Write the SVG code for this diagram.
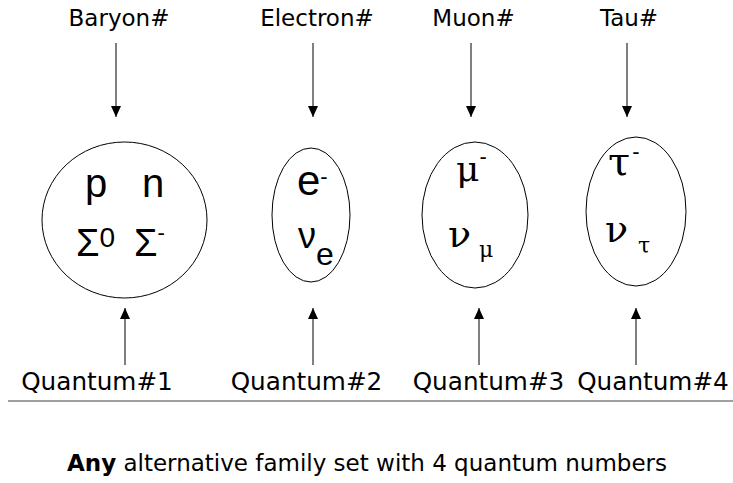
<svg xmlns="http://www.w3.org/2000/svg" width="733" height="483" viewBox="0 0 733 483">
<defs>
<marker id="ah" viewBox="0 0 11 10" refX="11" refY="5" markerWidth="11" markerHeight="10" markerUnits="userSpaceOnUse" orient="auto">
<path d="M0,0 L11,5 L0,10 Z" fill="#000"/>
</marker>
</defs>
<style>
.lbl{font-family:"DejaVu Sans",Verdana,sans-serif;font-size:23px;fill:#000}
.q{font-size:24.7px}
.sym{font-family:"Liberation Sans",Arial,sans-serif;fill:#000}
.grk{font-family:"DejaVu Serif","Liberation Serif",serif;fill:#000}
.node{fill:#fff;stroke:#000;stroke-width:1}
.conn{stroke:#000;stroke-width:1;fill:none;marker-end:url(#ah)}
</style>
<rect width="733" height="483" fill="#fff"/>
<g id="labels">
<text class="lbl" x="119" y="26" text-anchor="middle">Baryon#</text>
<text class="lbl" x="317" y="26" text-anchor="middle">Electron#</text>
<text class="lbl" x="473.5" y="26" text-anchor="middle">Muon#</text>
<text class="lbl" x="629" y="26" text-anchor="middle">Tau#</text>
<text class="lbl q" x="97" y="390" text-anchor="middle">Quantum#1</text>
<text class="lbl q" x="306.5" y="390" text-anchor="middle">Quantum#2</text>
<text class="lbl q" x="488.5" y="390" text-anchor="middle">Quantum#3</text>
<text class="lbl q" x="653" y="390" text-anchor="middle">Quantum#4</text>
</g>
<g id="connectors">
<line class="conn" x1="116" y1="43" x2="116" y2="117"/>
<line class="conn" x1="313" y1="43" x2="313" y2="117"/>
<line class="conn" x1="471" y1="43" x2="471" y2="117"/>
<line class="conn" x1="627" y1="43" x2="627" y2="117"/>
<line class="conn" x1="125" y1="365" x2="125" y2="308"/>
<line class="conn" x1="313" y1="365" x2="313" y2="308"/>
<line class="conn" x1="479" y1="365" x2="479" y2="308"/>
<line class="conn" x1="636" y1="365" x2="636" y2="308"/>
</g>
<g id="baryon">
<ellipse class="node" cx="124.5" cy="220" rx="82.5" ry="78"/>
<text class="sym" font-size="40" x="85" y="197">p</text>
<text class="sym" font-size="40" x="142" y="197">n</text>
<text class="sym" font-size="38" x="76" y="256">Σ<tspan font-size="28" dy="-9">0</tspan></text>
<text class="sym" font-size="38" x="134" y="256">Σ<tspan font-size="22" dy="-16">-</tspan></text>
</g>
<g id="electron">
<ellipse class="node" cx="311" cy="215" rx="39" ry="67"/>
<text class="sym" font-size="42" x="297" y="195">e<tspan font-size="22" dy="-11">-</tspan></text>
<text class="sym" font-size="36" x="298" y="248">ν<tspan font-size="32" dy="17">e</tspan></text>
</g>
<g id="muon">
<ellipse class="node" cx="475" cy="215" rx="53" ry="73"/>
<text class="grk" font-size="36" x="456" y="181">μ<tspan class="sym" font-size="22" dy="-17">-</tspan></text>
<text class="grk" font-size="38" x="448" y="247">ν<tspan font-size="22" dx="8" dy="10">μ</tspan></text>
</g>
<g id="tau">
<ellipse class="node" cx="636" cy="211.5" rx="50" ry="74.5"/>
<text class="grk" font-size="40" x="608" y="175">τ<tspan class="sym" font-size="22" dx="2" dy="-16">-</tspan></text>
<text class="grk" font-size="38" x="605" y="242">ν<tspan font-size="22" dx="10" dy="11">τ</tspan></text>
</g>
<line x1="8" y1="401" x2="733" y2="401" stroke="#808080" stroke-width="1.5"/>
<text class="lbl" x="367" y="471" font-size="24.2" text-anchor="middle"><tspan font-weight="bold">Any</tspan> alternative family set with 4 quantum numbers</text>
</svg>
